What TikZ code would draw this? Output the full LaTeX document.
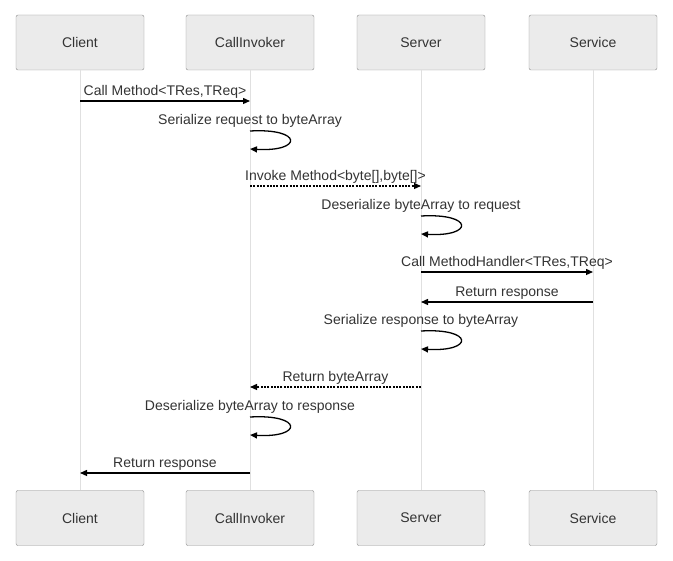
\documentclass[tikz,border=0pt]{standalone}
\usepackage{fontspec}
\setmainfont{Liberation Sans}
\usetikzlibrary{arrows.meta}

\begin{document}
\begin{tikzpicture}[x=1pt,y=-1pt,
    actor/.style={draw=black!45,fill=black!8,rounded corners=2pt,minimum width=128pt,minimum height=55pt,
      text=black!80,font=\fontsize{14}{16}\selectfont},
    life/.style={draw=black!12,line width=1pt},
    msg/.style={line width=1.3pt,-{Triangle[length=7pt,width=6pt]}},
    reply/.style={msg,dash pattern=on 2pt off 1.3pt},
    lbl/.style={text=black!80,font=\fontsize{14}{16}\selectfont,inner sep=2pt}]
      \useasboundingbox (0,0) rectangle (673,561);

      \node[actor] (client)   at ( 80,42.5) {Client};
      \node[actor] (invoker)  at (250,42.5) {CallInvoker};
      \node[actor] (server)   at (421,42.5) {Server};
      \node[actor] (service)  at (593,42.5) {Service};
      \node[actor] (clientb)  at ( 80,518) {Client};
      \node[actor] (invokerb) at (250,518) {CallInvoker};
      \node[actor] (serverb)  at (421,518) {Server};
      \node[actor] (serviceb) at (593,518) {Service};

      \path[life] (client)  edge (clientb);
      \path[life] (invoker) edge (invokerb);
      \path[life] (server)  edge (serverb);
      \path[life] (service) edge (serviceb);

      % message ends on the lifelines
      \coordinate (c1)  at ( 80,101);
      \coordinate (i1)  at (250,101);
      \coordinate (i2a) at (250,131);
      \coordinate (i2b) at (250,149);
      \coordinate (i3)  at (250,186);
      \coordinate (s3)  at (421,186);
      \coordinate (s4a) at (421,216);
      \coordinate (s4b) at (421,234);
      \coordinate (s5)  at (421,272);
      \coordinate (v5)  at (593,272);
      \coordinate (v6)  at (593,302);
      \coordinate (s6)  at (421,302);
      \coordinate (s7a) at (421,331);
      \coordinate (s7b) at (421,349);
      \coordinate (s8)  at (421,387);
      \coordinate (i8)  at (250,387);
      \coordinate (i9a) at (250,417);
      \coordinate (i9b) at (250,435);
      \coordinate (i10) at (250,473);
      \coordinate (c10) at ( 80,473);

      \path[msg]   (c1) edge node[lbl,above] {Call Method<TRes,TReq>} (i1);
      \draw[msg]   (i2a) node[lbl,above=1pt] {Serialize request to byteArray}
                   .. controls (303,128) and (303,152) .. (i2b);
      \path[reply] (i3) edge node[lbl,above] {Invoke Method<byte[],byte[]>} (s3);
      \draw[msg]   (s4a) node[lbl,above=1pt] {Deserialize byteArray to request}
                   .. controls (474,213) and (474,237) .. (s4b);
      \path[msg]   (s5) edge node[lbl,above] {Call MethodHandler<TRes,TReq>} (v5);
      \path[msg]   (v6) edge node[lbl,above] {Return response} (s6);
      \draw[msg]   (s7a) node[lbl,above=1pt] {Serialize response to byteArray}
                   .. controls (474,328) and (474,352) .. (s7b);
      \path[reply] (s8) edge node[lbl,above] {Return byteArray} (i8);
      \draw[msg]   (i9a) node[lbl,above=1pt] {Deserialize byteArray to response}
                   .. controls (303,414) and (303,438) .. (i9b);
      \path[msg]   (i10) edge node[lbl,above] {Return response} (c10);
    \end{tikzpicture}
\end{document}
